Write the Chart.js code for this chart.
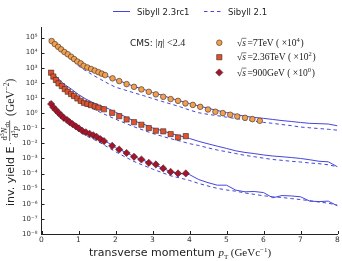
<!DOCTYPE html>
<html><head><meta charset="utf-8">
<script src="https://cdn.jsdelivr.net/npm/chart.js@4"></script>
<style>html,body{margin:0;padding:0;background:#fff}#w{width:342px;height:261px}</style>
</head><body><div id="w"><canvas id="c" width="342" height="261"></canvas></div>
<script>
// ---- data (values as plotted, i.e. already multiplied by the scale factor) ----
const pt7 = [0.275,0.36,0.45,0.53,0.62,0.71,0.80,0.88,0.97,1.06,1.14,1.24,1.34,1.44,1.54,1.63,1.72,1.92,2.10,2.30,2.50,2.70,2.90,3.09,3.29,3.49,3.69,3.89,4.09,4.29,4.50,4.70,4.90,5.10,5.29,5.50,5.70,5.90];
const y7 = [5.9e4,3.7e4,2.45e4,1.66e4,1.1e4,7.8e3,5.4e3,3.8e3,2.6e3,1.95e3,1.35e3,1.05e3,8.3e2,6.5e2,5.1e2,4.1e2,3.3e2,2.0e2,1.32e2,83,55,37,25.7,17.4,12.0,8.5,6.5,4.4,3.5,2.6,1.74,1.23,1.0,0.78,0.6,0.49,0.4,0.31];
const pt236 = [0.26,0.32,0.39,0.46,0.55,0.63,0.71,0.80,0.88,0.97,1.06,1.15,1.24,1.34,1.44,1.54,1.69,1.91,2.10,2.30,2.50,2.70,2.90,3.09,3.29,3.49,3.69,3.90];
const y236 = [470,263,155,93,62,39,26,18.2,13.5,9.3,6.5,4.8,4.1,3.4,2.8,2.3,1.8,1.05,0.63,0.38,0.25,0.17,0.102,0.068,0.062,0.041,0.0245,0.030];
const pt900 = [0.26,0.32,0.39,0.46,0.53,0.60,0.69,0.76,0.84,0.93,1.01,1.10,1.20,1.30,1.40,1.49,1.59,1.69,1.91,2.10,2.30,2.50,2.70,2.90,3.09,3.29,3.49,3.69,3.90];
const y900 = [4.0,2.4,1.58,1.05,0.71,0.49,0.35,0.25,0.186,0.132,0.098,0.068,0.054,0.043,0.034,0.027,0.019,0.014,0.0068,0.0039,0.0023,0.00129,0.00085,0.00051,0.0004,0.00022,0.000129,0.000102,0.000102];

// Sibyll 2.3rc1 (solid) and Sibyll 2.1 (dashed) model curves
const ptModel = [0.2,0.3,0.4,0.5,0.6,0.8,1.0,1.2,1.4,1.6,1.8,2.0,2.25,2.5,2.75,3.0,3.25,3.5,3.75,4.0,4.25,4.5,4.75,5.0,5.25,5.5,5.75,6.0,6.25,6.5,6.75,7.0,7.25,7.5,7.75,8.0];
const sib23_7 = [8e4,5.6e4,3.2e4,2.0e4,1.3e4,5.6e3,2.3e3,1.15e3,6.3e2,3.9e2,2.6e2,1.6e2,1.02e2,58,38,23,15.5,9.5,6.4,4.3,3.0,2.1,1.5,1.08,0.82,0.62,0.52,0.45,0.38,0.32,0.28,0.24,0.21,0.2,0.19,0.145];
const sib21_7 = [7.5e4,5.0e4,2.9e4,1.75e4,1.1e4,4.5e3,1.3e3,6.3e2,3.2e2,1.7e2,91,52,34,22,14.5,9.3,6.0,4.0,2.6,1.6,1.05,0.83,0.68,0.54,0.44,0.355,0.295,0.245,0.21,0.175,0.148,0.12,0.107,0.095,0.085,0.074];
const sib23_236 = [700,480,260,150,85,40,17,8.5,4.8,3.0,2.0,1.15,0.6,0.3,0.19,0.105,0.07,0.045,0.031,0.021,0.0135,0.0093,0.0065,0.0046,0.0032,0.0025,0.0021,0.0017,0.00145,0.0013,0.00115,0.001,0.00082,0.00065,0.0006,0.00028];
const sib21_236 = [650,420,220,120,65,26,5.6,3.0,1.9,1.1,0.65,0.4,0.22,0.125,0.075,0.045,0.03,0.02,0.014,0.0095,0.0072,0.005,0.0036,0.0028,0.0021,0.0016,0.0013,0.00105,0.00085,0.00075,0.00065,0.00058,0.0005,0.00045,0.00038,0.00028];
const sib23_900 = [6.0,3.5,1.9,1.05,0.6,0.3,0.1,0.058,0.036,0.022,0.011,0.0052,0.0027,0.00135,0.00075,0.00045,0.00024,0.00013,0.0001,0.000085,0.00004,0.000025,0.000017,0.000017,0.000008,0.0000062,0.0000065,0.0000055,0.0000025,0.0000035,0.0000033,0.0000029,0.0000015,0.0000014,0.0000015,0.00000072];
const sib21_900 = [5.5,3.2,1.7,0.92,0.5,0.22,0.063,0.032,0.019,0.0105,0.0054,0.0028,0.0013,0.00063,0.00035,0.0002,0.000117,0.00007,0.00005,0.000035,0.000022,0.000015,0.0000105,0.0000082,0.0000068,0.0000052,0.0000042,0.0000034,0.0000029,0.0000026,0.0000022,0.0000019,0.0000016,0.0000013,0.0000011,0.00000081];

const yTickExp = [-8,-7,-6,-5,-4,-3,-2,-1,0,1,2,3,4,5];
const xTicks = [0,1,2,3,4,5,6,7,8];
const modelNames = ['Sibyll 2.3rc1','Sibyll 2.1'];
const dataLabels = [['7TeV','4'],['2.36TeV','2'],['900GeV','0']];

const LINE = '#4545dc';
const SUP = {'-':'\u207b','0':'\u2070','1':'\u00b9','2':'\u00b2','3':'\u00b3','4':'\u2074','5':'\u2075','6':'\u2076','7':'\u2077','8':'\u2078','9':'\u2079'};
const sup = s => String(s).split('').map(c=>SUP[c]).join('');
const xy = (xs, ys) => xs.map((x,i)=>({x, y: ys[i]}));

function lineDs(ys, dash){
  return {data: xy(ptModel, ys), borderColor: LINE, borderWidth: 1, borderDash: dash, pointRadius: 0, tension: 0, fill:false, order: 2};
}
function markDs(xs, ys, style, r, fill){
  return {data: xy(xs, ys), showLine:false, pointStyle: style, pointRadius: r, pointHoverRadius: r,
    backgroundColor: fill, borderColor: '#3a2a22', pointBorderWidth: 0.6, borderWidth: 0.6, order: 1};
}

const SANS = '"DejaVu Sans", sans-serif';
const SERIF = '"Liberation Serif", "DejaVu Serif", serif';
const R_CIRC = 2.8, R_RECT = 3.7, R_DIAM = 3.6;

function runs(ctx, x, y, parts){
  for (const p of parts){
    ctx.font = p.f;
    ctx.fillText(p.t, x, y + (p.dy||0));
    x += ctx.measureText(p.t).width + (p.gap||0);
  }
  return x;
}

const annot = {
  id: 'annot',
  afterDraw(chart){
    const ctx = chart.ctx, xs = chart.scales.x, ys = chart.scales.y, a = chart.chartArea;
    ctx.save();
    // inward ticks
    ctx.strokeStyle = '#222'; ctx.lineWidth = 1;
    for (const v of xTicks){ const px = Math.round(xs.getPixelForValue(v))+0.5; ctx.beginPath(); ctx.moveTo(px, a.bottom); ctx.lineTo(px, a.bottom-3); ctx.stroke(); }
    for (const e of yTickExp){ const py = Math.round(ys.getPixelForValue(Math.pow(10,e)))+0.5; ctx.beginPath(); ctx.moveTo(a.left, py); ctx.lineTo(a.left+3, py); ctx.stroke(); }

    ctx.fillStyle = '#222'; ctx.textBaseline = 'alphabetic'; ctx.textAlign = 'left';
    // top legend
    ctx.strokeStyle = LINE; ctx.lineWidth = 1;
    ctx.beginPath(); ctx.moveTo(113, 11.5); ctx.lineTo(130, 11.5); ctx.stroke();
    ctx.setLineDash([3.5,3]); ctx.beginPath(); ctx.moveTo(204, 11.5); ctx.lineTo(222, 11.5); ctx.stroke(); ctx.setLineDash([]);
    ctx.font = '8.5px ' + SANS;
    ctx.fillText(modelNames[0], 137, 14.5);
    ctx.fillText(modelNames[1], 228, 14.5);

    // CMS label
    runs(ctx, 130, 45.5, [{t:'CMS: ', f:'9px '+SANS},{t:'|', f:'10px '+SERIF},{t:'η', f:'italic 10px '+SERIF},{t:'| <2.4', f:'10px '+SERIF}]);

    // inner legend markers
    const mk = [[219.3,42.7,'circle',R_CIRC,'#f0a050'],[219.3,57.2,'rect',R_RECT,'#e0522e'],[219.3,72.5,'rectRot',R_DIAM,'#a8122c']];
    mk.forEach((m,i)=>{
      ctx.fillStyle = m[4]; ctx.strokeStyle = '#3a2a22'; ctx.lineWidth = 0.6;
      Chart.helpers.drawPoint(ctx, {pointStyle:m[2], radius:m[3], borderWidth:0.6}, m[0], m[1]);
      ctx.fillStyle = '#222';
      const by = m[1] + 3.2;
      let x = 237;
      ctx.font = '9.5px ' + SERIF;
      ctx.fillText('\u221a', x, by); x += ctx.measureText('\u221a').width;
      ctx.font = 'italic 9.5px ' + SERIF;
      const sw = ctx.measureText('s').width;
      ctx.fillText('s', x, by);
      ctx.strokeStyle = '#222'; ctx.lineWidth = 0.6;
      ctx.beginPath(); ctx.moveTo(x-0.5, by-7.6); ctx.lineTo(x+sw+0.5, by-7.6); ctx.stroke();
      x += sw + 1.5;
      runs(ctx, x, by, [{t:'=' + dataLabels[i][0] + ' ( \u00d710', f:'9.5px '+SERIF},{t:dataLabels[i][1], f:'6.5px '+SERIF, dy:-4, gap:0.8},{t:')', f:'9.5px '+SERIF}]);
    });

    // x title
    ctx.fillStyle = '#222';
    runs(ctx, 89, 256, [{t:'transverse momentum ', f:'11px '+SANS},{t:'p', f:'italic 11px '+SERIF},{t:'T', f:'7px '+SERIF, dy:2.5, gap:2.5},
      {t:'(GeVc', f:'11px '+SERIF},{t:'\u22121', f:'7px '+SERIF, dy:-4.5},{t:')', f:'11px '+SERIF}]);

    // y title (rotated)
    ctx.translate(14, 206); ctx.rotate(-Math.PI/2);
    let x = runs(ctx, 0, 0, [{t:'inv. yield E', f:'11px '+SANS}]);
    x += 1.5;
    ctx.font = '9px ' + SERIF;
    ctx.fillText('\u00b7', x, -1.5);
    x += 4.5;
    // fraction d^3N_ch / d^3p
    const fx = x;
    ctx.font = '8.5px ' + SERIF; ctx.fillText('d', x, -7); x += ctx.measureText('d').width;
    ctx.font = '6px '+SERIF; ctx.fillText('3', x, -10.5); x += ctx.measureText('3').width;
    ctx.font = 'italic 8.5px '+SERIF; ctx.fillText('N', x, -7); x += ctx.measureText('N').width;
    ctx.font = '6px '+SERIF; ctx.fillText('ch', x, -5.5); x += ctx.measureText('ch').width;
    const fw = x - fx + 1;
    ctx.fillRect(fx - 0.5, -4.6, fw + 1, 0.7);
    let dx = fx + fw/2 - 7;
    ctx.font = '8.5px ' + SERIF; ctx.fillText('d', dx, 3.6); dx += ctx.measureText('d').width;
    ctx.font = '6px '+SERIF; ctx.fillText('3', dx, 0.5); dx += ctx.measureText('3').width;
    ctx.font = 'italic 8.5px '+SERIF; ctx.fillText('p', dx, 3.6);
    x = fx + fw + 5;
    runs(ctx, x, 0, [{t:'(GeV', f:'11.5px '+SERIF},{t:'\u22122', f:'7.5px '+SERIF, dy:-4.8},{t:')', f:'11.5px '+SERIF}]);
    ctx.restore();
  }
};

new Chart(document.getElementById('c'), {
  type: 'line',
  data: { datasets: [
    lineDs(sib23_7, []), lineDs(sib21_7, [3.5,3]),
    lineDs(sib23_236, []), lineDs(sib21_236, [3.5,3]),
    lineDs(sib23_900, []), lineDs(sib21_900, [3.5,3]),
    markDs(pt7, y7, 'circle', R_CIRC, '#f0a050'),
    markDs(pt236, y236, 'rect', R_RECT, '#e0522e'),
    markDs(pt900, y900, 'rectRot', R_DIAM, '#a8122c')
  ]},
  options: {
    responsive: false, animation: false, devicePixelRatio: 1,
    layout: { padding: { left: 0, right: 4.5, top: 27, bottom: 0 } },
    plugins: { legend: {display:false}, tooltip: {enabled:false} },
    scales: {
      x: { type: 'linear', min: 0, max: 8,
        afterBuildTicks: s => { s.ticks = xTicks.map(v=>({value:v})); },
        afterFit: s => { s.height = 27; },
        ticks: { font: {size: 7.5, family: 'DejaVu Sans'}, color: '#333', padding: 2, maxRotation: 0, callback: v => String(v) },
        grid: { display: true, drawOnChartArea: false, drawTicks: false },
        border: { display: true, color: '#222', width: 1 } },
      y: { type: 'logarithmic', min: 1e-8, max: 5e5,
        afterBuildTicks: s => { s.ticks = yTickExp.map(e=>({value: Math.pow(10,e)})); },
        afterFit: s => { s.width = 41.5; },
        ticks: { font: {size: 7, family: 'DejaVu Sans'}, color: '#333', padding: 4,
          callback: v => '10' + sup(Math.round(Math.log10(v))) },
        grid: { display: true, drawOnChartArea: false, drawTicks: false },
        border: { display: true, color: '#222', width: 1 } }
    }
  },
  plugins: [annot]
});
</script></body></html>
